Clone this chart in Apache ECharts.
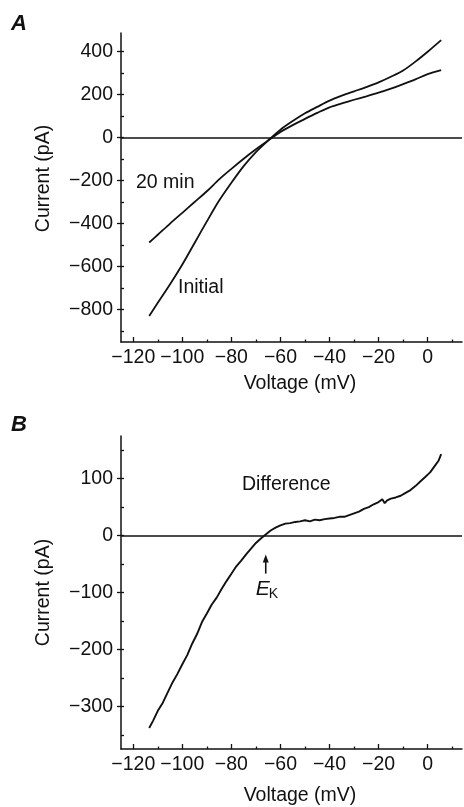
<!DOCTYPE html>
<html>
<head>
<meta charset="utf-8">
<script src="https://cdn.jsdelivr.net/npm/echarts@6/dist/echarts.min.js"></script>
<style>
  html, body { margin: 0; padding: 0; background: #fff; }
  #chart { width: 464px; height: 807px; }
</style>
</head>
<body>
<div id="chart"></div>
<script>
// panel A - I-V curves, initial and after 20 min
var voltageA = [-113.5, -110, -105, -100, -95, -90, -85, -80, -75, -70, -65, -60, -55, -50, -45, -40, -35, -30, -25, -20, -15, -10, -5, 0, 5.5];
var initialA = [-829, -768, -682, -590, -490, -390, -293, -210, -133, -68, -14, 36, 76, 112, 142, 171, 194, 214, 234, 256, 282, 311, 352, 398, 452];
var twentyMinA = [-488, -452, -400, -350, -300, -250, -195, -146, -99, -55, -14, 25, 57, 86, 114, 140, 158, 175, 191, 208, 227, 248, 270, 294, 313];

// panel B - difference current
var voltageB = [-113.5, -112, -110, -108, -106, -104, -102, -100, -98, -96, -94, -92, -90, -88, -86, -84, -82, -80, -78, -76, -74, -72, -70, -68, -66, -64, -62, -60, -58, -56, -54, -52, -50, -48, -46, -44, -42, -40, -38, -36, -34, -32, -30, -28, -26, -24, -22, -20, -18.5, -17.5, -16.5, -15, -13, -11, -9, -7, -5, -3, -1, 1, 3, 4.5, 5.5];
var differenceB = [-338, -326, -308, -294, -276, -258, -243, -226, -210, -190, -173, -152, -137, -121, -109, -94, -80, -67, -54, -44, -33, -23, -13, -5, 2, 9, 14, 18, 21, 22, 24, 25, 27, 25, 28, 27, 29, 30, 31, 33, 33, 36, 39, 42, 47, 50, 55, 59, 64, 57, 62, 65, 67, 70, 75, 80, 87, 95, 103, 111, 123, 132, 143];

// ticks
var xTicks = [-120, -100, -80, -60, -40, -20, 0];
var xMinorTicks = [-110, -90, -70, -50, -30, -10, 10];
var yTicksA = [-800, -600, -400, -200, 0, 200, 400];
var yMinorTicksA = [-900, -800, -700, -600, -500, -400, -300, -200, -100, 0, 100, 200, 300, 400];
var yTicksB = [-300, -200, -100, 0, 100];
var yMinorTicksB = [-350, -300, -250, -200, -150, -100, -50, 0, 50, 100, 150];
var EK = -66;

var FONT = '"Liberation Sans", Arial, Helvetica, sans-serif';
var FS = 19.5;
var INK = '#111';

function minus(v) { return String(v).replace('-', '\u2212'); }

function pairs(xs, ys) {
    var out = [];
    for (var i = 0; i < xs.length; i++) out.push([xs[i], ys[i]]);
    return out;
}

function mainX(grid, gap) {
    return {
        gridIndex: grid, type: 'value', min: -125, max: 14,
        axisLine: { show: true, onZero: false, lineStyle: { color: INK, width: 1.5 } },
        axisTick: { show: true, inside: true, length: 5, customValues: xTicks, lineStyle: { color: INK, width: 1.3 } },
        axisLabel: { customValues: xTicks, formatter: minus, margin: 6, fontSize: FS, color: INK, fontFamily: FONT },
        splitLine: { show: false },
        name: 'Voltage (mV)', nameLocation: 'middle', nameGap: gap,
        nameTextStyle: { fontSize: FS, color: INK, fontFamily: FONT, padding: [0, 0, 0, 17] }
    };
}
function minorX(grid) {
    return {
        gridIndex: grid, type: 'value', min: -125, max: 14, position: 'bottom',
        axisLine: { show: false, onZero: false },
        axisTick: { show: true, inside: true, length: 2.5, customValues: xMinorTicks, lineStyle: { color: INK, width: 1.3 } },
        axisLabel: { show: false }, splitLine: { show: false }
    };
}
function mainY(grid, min, max, ticks, pad) {
    return {
        gridIndex: grid, type: 'value', min: min, max: max, position: 'left',
        axisLine: { show: true, onZero: false, lineStyle: { color: INK, width: 1.5 } },
        axisTick: { show: true, inside: false, length: 4, customValues: ticks, lineStyle: { color: INK, width: 1.3 } },
        axisLabel: { customValues: ticks, formatter: minus, margin: 8, fontSize: FS, color: INK, fontFamily: FONT },
        splitLine: { show: false },
        name: 'Current (pA)', nameLocation: 'middle', nameGap: 67,
        nameTextStyle: { fontSize: FS, color: INK, fontFamily: FONT, padding: pad }
    };
}
function minorY(grid, min, max, ticks) {
    return {
        gridIndex: grid, type: 'value', min: min, max: max, position: 'left', offset: 0,
        axisLine: { show: false, onZero: false },
        axisTick: { show: true, inside: true, length: 3, customValues: ticks, lineStyle: { color: INK, width: 1.3 } },
        axisLabel: { show: false }, splitLine: { show: false }
    };
}

var zeroLine = {
    silent: true, symbol: 'none', label: { show: false },
    lineStyle: { color: INK, width: 1.7, type: 'solid' },
    data: [{ yAxis: 0 }]
};

var chart = echarts.init(document.getElementById('chart'));
chart.setOption({
    animation: false,
    backgroundColor: '#fff',
    grid: [
        { left: 121, right: 2, top: 33, bottom: 465 },
        { left: 121, right: 2, top: 436, bottom: 57 }
    ],
    xAxis: [mainX(0, 32), minorX(0), mainX(1, 37), minorX(1)],
    yAxis: [
        mainY(0, -950, 485, yTicksA, [0, 0, 0, 18]),
        minorY(0, -950, 485, yMinorTicksA),
        mainY(1, -375, 175, yTicksB, [0, 0, 0, 0]),
        minorY(1, -375, 175, yMinorTicksB)
    ],
    series: [
        {
            name: 'Initial', type: 'line', xAxisIndex: 0, yAxisIndex: 0,
            data: pairs(voltageA, initialA), showSymbol: false, smooth: 0.3,
            lineStyle: { color: INK, width: 1.8 }, markLine: zeroLine
        },
        {
            name: '20 min', type: 'line', xAxisIndex: 0, yAxisIndex: 0,
            data: pairs(voltageA, twentyMinA), showSymbol: false, smooth: 0.3,
            lineStyle: { color: INK, width: 1.8 }
        },
        {
            name: 'Difference', type: 'line', xAxisIndex: 2, yAxisIndex: 2,
            data: pairs(voltageB, differenceB), showSymbol: false,
            lineStyle: { color: INK, width: 1.9 }, markLine: zeroLine
        }
    ]
});

// annotations; the E_K arrow is placed from its voltage on panel B
var ek = chart.convertToPixel({ xAxisIndex: 2, yAxisIndex: 2 }, [EK, 0]);
var txt = function (x, y, s, extra) {
    var st = { text: s, fill: INK, font: FS + 'px ' + FONT, textVerticalAlign: 'middle' };
    for (var k in extra) st[k] = extra[k];
    return { type: 'text', x: x, y: y, style: st };
};
chart.setOption({
    graphic: [
        txt(11, 24, 'A', { font: 'italic bold 22px ' + FONT }),
        txt(11, 425, 'B', { font: 'italic bold 22px ' + FONT }),
        txt(136, 183, '20 min'),
        txt(178, 288, 'Initial'),
        txt(242, 485, 'Difference'),
        {
            type: 'line', shape: { x1: ek[0], y1: ek[1] + 38, x2: ek[0], y2: ek[1] + 24 },
            style: { stroke: INK, lineWidth: 1.6 }
        },
        {
            type: 'polygon',
            shape: { points: [[ek[0], ek[1] + 19], [ek[0] - 3, ek[1] + 27], [ek[0] + 3, ek[1] + 27]] },
            style: { fill: INK }
        },
        txt(ek[0] - 10, ek[1] + 54, 'E', { font: 'italic 21px ' + FONT }),
        txt(ek[0] + 3, ek[1] + 59, 'K', { font: '14px ' + FONT })
    ]
});
</script>
</body>
</html>
